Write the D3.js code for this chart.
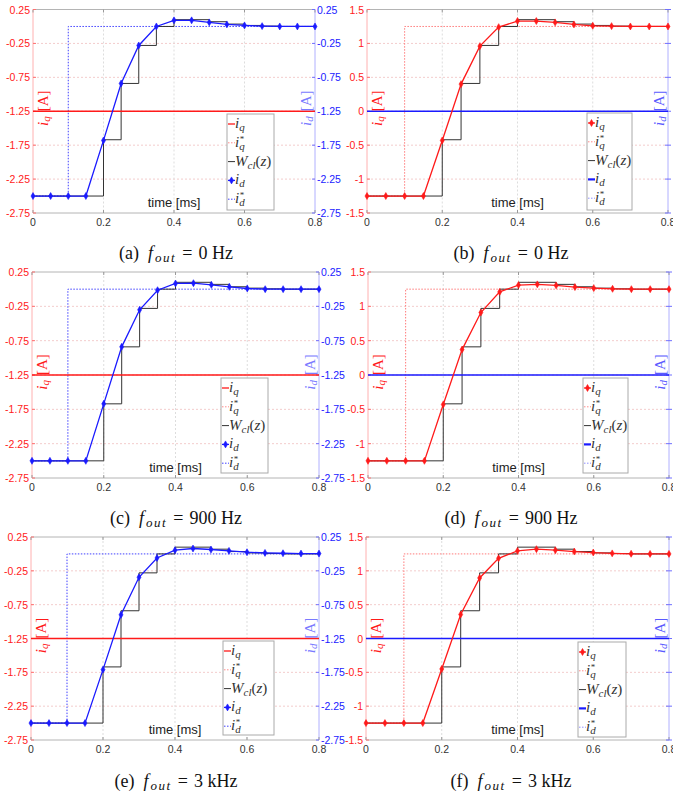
<!DOCTYPE html>
<head>
<meta charset="utf-8">
<title>Current step responses</title>
<style>
body { margin: 0; background: #fff; }
svg { display: block; }
.tick-label { font: 10.5px "Liberation Sans", Arial, sans-serif; }
.serif { font-family: "Liberation Serif", "Times New Roman", serif; }
</style>
<script src="https://cdn.jsdelivr.net/npm/d3@7"></script>
</head>
<body>
<script>
"use strict";
// sample instants [ms]
var time = [0, 0.05, 0.1, 0.15, 0.2, 0.25, 0.3, 0.35, 0.4, 0.45, 0.5, 0.55, 0.6, 0.65, 0.7, 0.75, 0.8];

// ideal closed loop response W_cl(z) (held between samples)
var wclD = [-2.5, -2.5, -2.5, -2.5, -1.67, -0.84, -0.28, 0.0, 0.10, 0.10, 0.07, 0.035, 0.015, 0.005, 0, 0, 0];
var wclQ = [-1.25, -1.25, -1.25, -1.25, -0.42, 0.41, 0.97, 1.25, 1.35, 1.35, 1.32, 1.285, 1.265, 1.255, 1.25, 1.25, 1.25];

// measured currents
var idA = [-2.5, -2.5, -2.5, -2.5, -1.68, -0.84, -0.28, 0.0, 0.09, 0.09, 0.06, 0.03, 0.015, 0.005, 0, 0, 0];
var iqB = [-1.25, -1.25, -1.25, -1.25, -0.43, 0.40, 0.96, 1.24, 1.33, 1.33, 1.31, 1.28, 1.26, 1.255, 1.25, 1.25, 1.25];
var idC = [-2.5, -2.5, -2.5, -2.5, -1.67, -0.84, -0.30, -0.015, 0.083, 0.087, 0.063, 0.034, 0.01, 0.0, 0, 0, 0];
var iqD = [-1.25, -1.25, -1.25, -1.25, -0.43, 0.37, 0.91, 1.21, 1.31, 1.32, 1.305, 1.28, 1.265, 1.255, 1.25, 1.25, 1.25];
var idE = [-2.5, -2.5, -2.5, -2.5, -1.71, -0.90, -0.345, -0.06, 0.055, 0.08, 0.065, 0.045, 0.025, 0.015, 0.01, 0.005, 0.005];
var iqF = [-1.25, -1.25, -1.25, -1.25, -0.45, 0.355, 0.895, 1.185, 1.295, 1.32, 1.305, 1.285, 1.27, 1.258, 1.252, 1.25, 1.25];

// references (step at t = 0.1 ms) and the other, unexcited axis
var refT = [0, 0.1, 0.1, 0.8];
var refD = [-2.5, -2.5, 0, 0];
var refQ = [-1.25, -1.25, 1.25, 1.25];
var flatT = [0, 0.8];
var iqFlat = [-1.25, -1.25];
var idFlat = [0, 0];

// tick labels
var xTicks = [0, 0.2, 0.4, 0.6, 0.8];
var ticksD = [0.25, -0.25, -0.75, -1.25, -1.75, -2.25, -2.75];
var ticksQ = [1.5, 1, 0.5, 0, -0.5, -1, -1.5];

var captionTags = ["(a)", "(b)", "(c)", "(d)", "(e)", "(f)"];
var captionFreq = ["0 Hz", "0 Hz", "900 Hz", "900 Hz", "3 kHz", "3 kHz"];

var BLUE = "#1a1aff", RED = "#ff1a1a";

var panels = [
  {kind: "d", meas: idA, box: [33, 315, 9.5, 213], leg: [227, 114, 47, 96], cap: [176, 259]},
  {kind: "q", meas: iqB, box: [367, 668, 9.5, 213], leg: [587, 113, 45, 97], cap: [511, 259]},
  {kind: "d", meas: idC, box: [32, 319, 272, 478], leg: [221, 378, 47, 95], cap: [176, 524]},
  {kind: "q", meas: iqD, box: [368, 669, 272, 478], leg: [583, 378, 45, 95], cap: [511, 524]},
  {kind: "d", meas: idE, box: [31, 319, 537, 740], leg: [223, 641, 51, 94], cap: [176, 787]},
  {kind: "q", meas: iqF, box: [366, 669, 537, 740], leg: [578, 642, 48, 95], cap: [511, 787]}
];

var svg = d3.select("body").append("svg")
    .attr("width", 673)
    .attr("height", 797);

panels.forEach(function(p, k) {
  var x0 = p.box[0], x1 = p.box[1], y0 = p.box[2], y1 = p.box[3];
  var isD = p.kind === "d";
  var ticks = isD ? ticksD : ticksQ;

  var x = d3.scaleLinear().domain([0, 0.8]).range([x0, x1]);
  var yL = d3.scaleLinear().domain(isD ? [-2.75, 0.25] : [-1.5, 1.5]).range([y1, y0]);
  var yR = yL.copy();

  var g = svg.append("g");

  // grid
  g.selectAll(".hg").data(ticks.slice(1, -1)).enter().append("line")
      .attr("x1", x0).attr("x2", x1)
      .attr("y1", function(d) { return yL(d); }).attr("y2", function(d) { return yL(d); })
      .attr("stroke", "#f3cccc").attr("stroke-dasharray", "2,2");
  g.selectAll(".vg").data(xTicks.slice(1, -1)).enter().append("line")
      .attr("y1", y0).attr("y2", y1)
      .attr("x1", function(d) { return x(d); }).attr("x2", function(d) { return x(d); })
      .attr("stroke", "#dddddd").attr("stroke-dasharray", "2,2");

  // frame
  g.append("line").attr("x1", x0).attr("x2", x1).attr("y1", y0).attr("y2", y0).attr("stroke", "#b4b4b4");
  g.append("line").attr("x1", x0).attr("x2", x1).attr("y1", y1).attr("y2", y1).attr("stroke", "#b4b4b4");
  g.append("line").attr("x1", x0).attr("x2", x0).attr("y1", y0).attr("y2", y1).attr("stroke", "#ffb0b0");
  g.append("line").attr("x1", x1).attr("x2", x1).attr("y1", y0).attr("y2", y1).attr("stroke", "#b0b0ff");

  // ticks
  xTicks.forEach(function(t) {
    [y0, y1].forEach(function(yy, j) {
      g.append("line").attr("x1", x(t)).attr("x2", x(t))
          .attr("y1", yy).attr("y2", j ? yy - 3 : yy + 3).attr("stroke", "#999");
    });
  });
  ticks.forEach(function(t) {
    g.append("line").attr("x1", x0).attr("x2", x0 + 3).attr("y1", yL(t)).attr("y2", yL(t)).attr("stroke", "#ff7070");
    g.append("line").attr("x1", x1 - 3).attr("x2", x1 + (isD ? 0 : 3)).attr("y1", yR(t)).attr("y2", yR(t)).attr("stroke", "#7070ff");
  });

  // tick labels (plain hyphen minus, as in the original)
  var fmt = function(d) { return String(d); };
  g.selectAll(".xl").data(xTicks).enter().append("text")
      .attr("class", "tick-label")
      .attr("x", function(d) { return x(d); }).attr("y", y1 + 13)
      .attr("text-anchor", "middle").attr("fill", "#333")
      .text(fmt);
  g.selectAll(".yl").data(ticks).enter().append("text")
      .attr("class", "tick-label")
      .attr("x", x0 - 3).attr("y", function(d) { return yL(d) + 4; })
      .attr("text-anchor", "end").attr("fill", RED)
      .text(fmt);
  if (isD) {
    g.selectAll(".yr").data(ticks).enter().append("text")
        .attr("class", "tick-label")
        .attr("x", x1 + 2).attr("y", function(d) { return yR(d) + 4; })
        .attr("text-anchor", "start").attr("fill", BLUE)
        .text(fmt);
  }

  var line = function(xs, ys, sc) {
    return d3.line().x(function(d, i) { return x(xs[i]); }).y(function(d) { return sc(d); })(ys);
  };

  // reference (dotted)
  g.append("path")
      .attr("d", line(refT, isD ? refD : refQ, isD ? yR : yL))
      .attr("fill", "none")
      .attr("stroke", isD ? "#4040ff" : "#ff7a7a")
      .attr("stroke-width", 1)
      .attr("stroke-dasharray", "1.5,1.5");

  // ideal staircase
  var stairs = d3.line().curve(d3.curveStepAfter)
      .x(function(d, i) { return x(time[i]); })
      .y(function(d) { return (isD ? yR : yL)(d); });
  g.append("path")
      .attr("d", stairs(isD ? wclD : wclQ))
      .attr("fill", "none").attr("stroke", "#333").attr("stroke-width", 1);

  // unexcited axis
  g.append("path")
      .attr("d", line(flatT, isD ? iqFlat : idFlat, isD ? yL : yR))
      .attr("fill", "none")
      .attr("stroke", isD ? RED : BLUE)
      .attr("stroke-width", 1.5);

  // measured excited axis
  var col = isD ? BLUE : RED;
  var sc = isD ? yR : yL;
  g.append("path")
      .attr("d", line(time, p.meas, sc))
      .attr("fill", "none").attr("stroke", col).attr("stroke-width", 1.3);
  var sym = d3.symbol().type(d3.symbolDiamond).size(14);
  g.selectAll(".mk").data(p.meas).enter().append("path")
      .attr("d", sym)
      .attr("transform", function(d, i) { return "translate(" + x(time[i]) + "," + sc(d) + ")"; })
      .attr("fill", col).attr("stroke", col).attr("stroke-width", 0.6);

  // axis labels inside the plot
  var ym = (y0 + y1) / 2 - 3;
  [[x0 + 10, "q", RED], [x1 - 9, "d", isD ? "#7a7aff" : "#5a5aff"]].forEach(function(a) {
    var t = g.append("text").attr("class", "serif")
        .attr("transform", "translate(" + a[0] + "," + ym + ") rotate(-90)")
        .attr("text-anchor", "middle").attr("dominant-baseline", "central")
        .attr("fill", a[2]).attr("font-size", 15);
    t.append("tspan").attr("font-style", "italic").text("i");
    t.append("tspan").attr("font-style", "italic").attr("font-size", 11).attr("dy", 3).text(a[1]);
    t.append("tspan").attr("dx", 5).attr("dy", -3).text("[A]");
  });

  g.append("text")
      .attr("x", (x0 + x1) / 2).attr("y", y1 - 6)
      .attr("text-anchor", "middle")
      .attr("font-family", "Liberation Sans, Arial, sans-serif")
      .attr("font-size", 13).attr("fill", "#222")
      .text("time [ms]");

  // legend
  var lx = p.leg[0], ly = p.leg[1], lw = p.leg[2], lh = p.leg[3];
  var lg = g.append("g");
  lg.append("rect").attr("x", lx).attr("y", ly).attr("width", lw).attr("height", lh)
      .attr("fill", "#fff").attr("stroke", "#aaa");
  var entries = [
    {m: "i", s: "q", star: false, col: RED, dash: null, w: 1.3, mark: !isD},
    {m: "i", s: "q", star: true, col: "#ff8a8a", dash: "1.5,1.5", w: 1, mark: false},
    {m: "W", s: "cl", star: false, col: "#333", dash: null, w: 1, mark: false, z: true},
    {m: "i", s: "d", star: false, col: BLUE, dash: null, w: isD ? 1.3 : 2.2, mark: isD},
    {m: "i", s: "d", star: true, col: isD ? "#4040ff" : "#9090ff", dash: "1.5,1.5", w: 1, mark: false}
  ];
  entries.forEach(function(e, i) {
    var ey = ly + 10 + i * 18.8;
    lg.append("line").attr("x1", lx + 1).attr("x2", lx + 8).attr("y1", ey).attr("y2", ey)
        .attr("stroke", e.col).attr("stroke-width", e.w).attr("stroke-dasharray", e.dash);
    if (e.mark) {
      lg.append("path").attr("d", sym).attr("transform", "translate(" + (lx + 4.5) + "," + ey + ")")
          .attr("fill", e.col).attr("stroke", e.col).attr("stroke-width", 0.6);
    }
    var t = lg.append("text").attr("class", "serif")
        .attr("x", lx + 8).attr("y", ey + 4)
        .attr("font-size", 15).attr("fill", "#333");
    t.append("tspan").attr("font-style", "italic").text(e.m);
    t.append("tspan").attr("font-style", "italic").attr("font-size", 11).attr("dy", 3).text(e.s);
    if (e.star) {
      t.append("tspan").attr("font-size", 9).attr("dx", -5).attr("dy", -8).text("*");
    }
    if (e.z) {
      t.append("tspan").attr("dy", -3).text("(");
      t.append("tspan").attr("font-style", "italic").text("z");
      t.append("tspan").text(")");
    }
  });

  // caption
  var c = svg.append("text").attr("class", "serif")
      .attr("x", p.cap[0]).attr("y", p.cap[1])
      .attr("text-anchor", "middle")
      .attr("font-size", 18).attr("fill", "#111");
  c.append("tspan").text(captionTags[k]);
  c.append("tspan").attr("dx", 9).attr("font-style", "italic").text("f");
  c.append("tspan").attr("dx", 2).attr("dy", 3).attr("font-style", "italic")
      .attr("font-size", 13).attr("letter-spacing", 1.5).text("out");
  c.append("tspan").attr("dx", 6).attr("dy", -3).text("=");
  c.append("tspan").attr("dx", 6).text(captionFreq[k]);
});
</script>
</body>
